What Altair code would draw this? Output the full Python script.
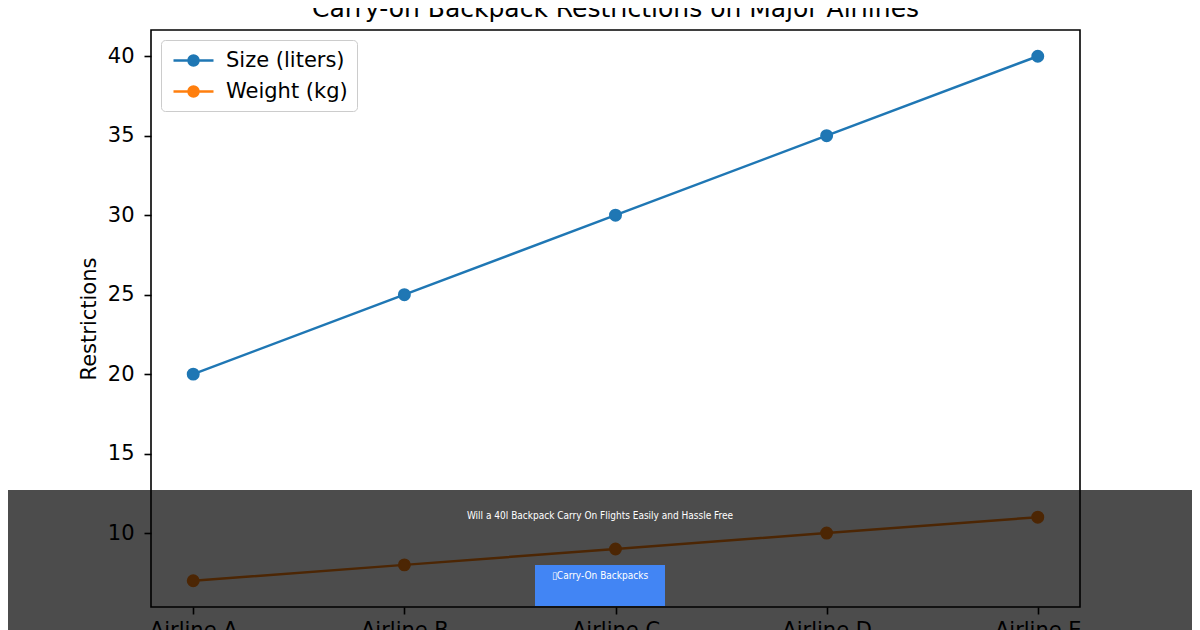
import altair as alt
import pandas as pd

airlines = ["Airline A", "Airline B", "Airline C", "Airline D", "Airline E"]
size_liters = [20, 25, 30, 35, 40]
weight_kg = [7, 8, 9, 10, 11]
series_names = ["Size (liters)", "Weight (kg)"]
series_colors = ["#1f77b4", "#ff7f0e"]
y_ticks = [10, 15, 20, 25, 30, 35, 40]
title_text = "Carry-on Backpack Restrictions on Major Airlines"
y_title = "Restrictions"
banner_text = "Will a 40l Backpack Carry On Flights Easily and Hassle Free"
button_text = "\u25afCarry-On Backpacks"

rows = []
for name, vals in zip(series_names, [size_liters, weight_kg]):
    for a, v in zip(airlines, vals):
        rows.append({"airline": a, "value": v, "series": name})
df = pd.DataFrame(rows)

W, H = 929, 577
PL, PT, PR, PB = 143, 22, 112, 23
FONT = "DejaVu Sans"
NARROW = "Liberation Sans Narrow, DejaVu Sans Condensed, Roboto Condensed, Roboto"
FS = 21

x_enc = alt.X(
    "airline:N", sort=airlines,
    scale=alt.Scale(type="point", padding=0.2),
    axis=alt.Axis(title=None, labelAngle=0, labelFontSize=FS, labelFont=FONT,
                  labelColor="black", tickColor="black", tickWidth=1.6, tickSize=7,
                  labelPadding=5, domain=False, grid=False),
)
y_enc = alt.Y(
    "value:Q",
    scale=alt.Scale(domain=[5.35, 41.65], nice=False, zero=False),
    axis=alt.Axis(values=y_ticks, title=y_title, labelFontSize=FS, labelFont=FONT,
                  labelColor="black", tickColor="black", tickWidth=1.6, tickSize=7,
                  labelPadding=10, domain=False, grid=False,
                  titleFontSize=FS, titleFont=FONT, titleFontWeight="normal",
                  titleColor="black", titlePadding=8),
)

color_scale = alt.Scale(domain=series_names, range=series_colors)
sym_path = "M-0.8,0H3.2M0.7,0A0.5,0.5,0,1,0,1.7,0A0.5,0.5,0,1,0,0.7,0Z"
legend = alt.Legend(
    title=None, orient="top-left", offset=10, symbolType=sym_path, symbolSize=400,
    symbolStrokeWidth=2.5, symbolOpacity=1, labelFontSize=FS, labelFont=FONT,
    labelColor="black", labelOffset=33, rowPadding=9, padding=9,
    fillColor="rgba(255,255,255,0.8)", strokeColor="#cccccc", cornerRadius=4,
)

lines = alt.Chart(df).mark_line(strokeWidth=2.5).encode(
    x=x_enc, y=y_enc,
    stroke=alt.Stroke("series:N", scale=color_scale, legend=legend),
)
points = alt.Chart(df).mark_point(filled=True, size=120, opacity=1).encode(
    x=x_enc, y=y_enc,
    fill=alt.Fill("series:N", scale=color_scale, legend=legend),
    stroke=alt.Stroke("series:N", scale=color_scale, legend=legend),
)

one = alt.Data(values=[{"k": 1}])
band = alt.Chart(one).mark_rect(color="black", opacity=0.7).encode(
    x=alt.value(-PL), x2=alt.value(W + PR), y=alt.value(460), y2=alt.value(H + PB + 10)
)
button = alt.Chart(one).mark_rect(color="#4285F4").encode(
    x=alt.value(384), x2=alt.value(514), y=alt.value(535), y2=alt.value(576)
)
t1 = alt.Chart(one).mark_text(color="white", font=NARROW, fontSize=10, fontWeight=500,
                              align="center", baseline="middle").encode(
    x=alt.value(449), y=alt.value(486), text=alt.value(banner_text)
)
t2 = alt.Chart(one).mark_text(color="white", font=NARROW, fontSize=10, fontWeight=500,
                              align="center", baseline="middle").encode(
    x=alt.value(449), y=alt.value(546), text=alt.value(button_text)
)

chart = alt.layer(lines, points, band, button, t1, t2).properties(
    width=W, height=H,
    title=alt.TitleParams(title_text, fontSize=25, font=FONT, fontWeight="normal",
                          anchor="middle", frame="group", offset=8, color="black"),
    padding={"left": PL, "top": PT, "right": PR, "bottom": PB},
    autosize="none",
).configure(background="white").configure_view(stroke="black", strokeWidth=1.6)

chart.save("out.html", embed_options={"renderer": "svg", "actions": False})
